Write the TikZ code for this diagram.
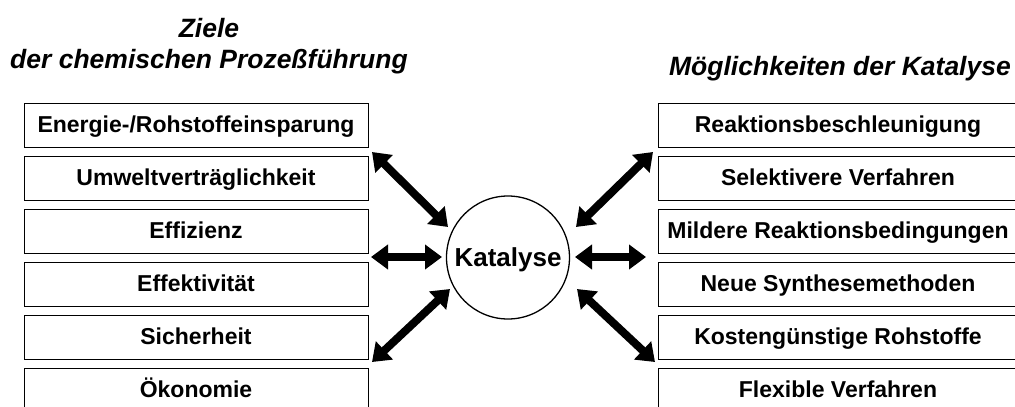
\documentclass[tikz,border=0pt]{standalone}
\usepackage{fontspec}
\setmainfont{Liberation Sans}
\usetikzlibrary{arrows.meta}
\tikzset{
  box/.style={draw, line width=1pt, minimum height=44pt, inner sep=0pt,
    text height=16.5pt, text depth=1.5pt,
    font=\fontsize{23}{27}\selectfont\bfseries},
  title/.style={font=\fontsize{26.5}{31}\selectfont\bfseries\itshape, inner sep=0pt},
  tipdbl/.tip={Triangle[width=24pt,length=17pt]},
  dbl/.style={line width=8pt, tipdbl-tipdbl}
}
\begin{document}
\begin{tikzpicture}[x=1pt,y=-1pt]
  \useasboundingbox (0,0) rectangle (1015,407);
  % Ueberschriften
  \node[title,anchor=base] (zt1) at (209,37) {Ziele};
  \node[title,anchor=base] (zt2) at (209,68) {der chemischen Prozeßführung};
  \node[title,anchor=base] (mt) at (840,75) {Möglichkeiten der Katalyse};
  % linke Spalte
  \node[box,minimum width=344pt] (z1) at (196,125) {Energie-/Rohstoffeinsparung};
  \node[box,minimum width=344pt] (z2) at (196,178) {Umweltverträglichkeit};
  \node[box,minimum width=344pt] (z3) at (196,231) {Effizienz};
  \node[box,minimum width=344pt] (z4) at (196,284) {Effektivität};
  \node[box,minimum width=344pt] (z5) at (196,337) {Sicherheit};
  \node[box,minimum width=344pt] (z6) at (196,390) {Ökonomie};
  % rechte Spalte
  \node[box,minimum width=360pt] (m1) at (838,125) {Reaktionsbeschleunigung};
  \node[box,minimum width=360pt] (m2) at (838,178) {Selektivere Verfahren};
  \node[box,minimum width=360pt] (m3) at (838,231) {Mildere Reaktionsbedingungen};
  \node[box,minimum width=360pt] (m4) at (838,284) {Neue Synthesemethoden};
  \node[box,minimum width=360pt] (m5) at (838,337) {Kostengünstige Rohstoffe};
  \node[box,minimum width=360pt] (m6) at (838,390) {Flexible Verfahren};
  % Mitte
  \node[draw, circle, line width=1.3pt, minimum size=123pt, inner sep=0pt,
    text height=18.6pt, text depth=0.6pt,
    font=\fontsize{26}{30}\selectfont\bfseries] (kat) at (508,257.5) {Katalyse};
  % Pfeilenden
  \coordinate (la1) at (372,152); \coordinate (lb1) at (448,227);
  \coordinate (la2) at (371,257); \coordinate (lb2) at (442,257);
  \coordinate (la3) at (372,362); \coordinate (lb3) at (450,289);
  \coordinate (ra1) at (653,152); \coordinate (rb1) at (576,227);
  \coordinate (ra2) at (646,257); \coordinate (rb2) at (575,257);
  \coordinate (ra3) at (655,362); \coordinate (rb3) at (577,289);
  \draw[dbl] (la1) -- (lb1);
  \draw[dbl] (la2) -- (lb2);
  \draw[dbl] (la3) -- (lb3);
  \draw[dbl] (ra1) -- (rb1);
  \draw[dbl] (ra2) -- (rb2);
  \draw[dbl] (ra3) -- (rb3);
\end{tikzpicture}
\end{document}
